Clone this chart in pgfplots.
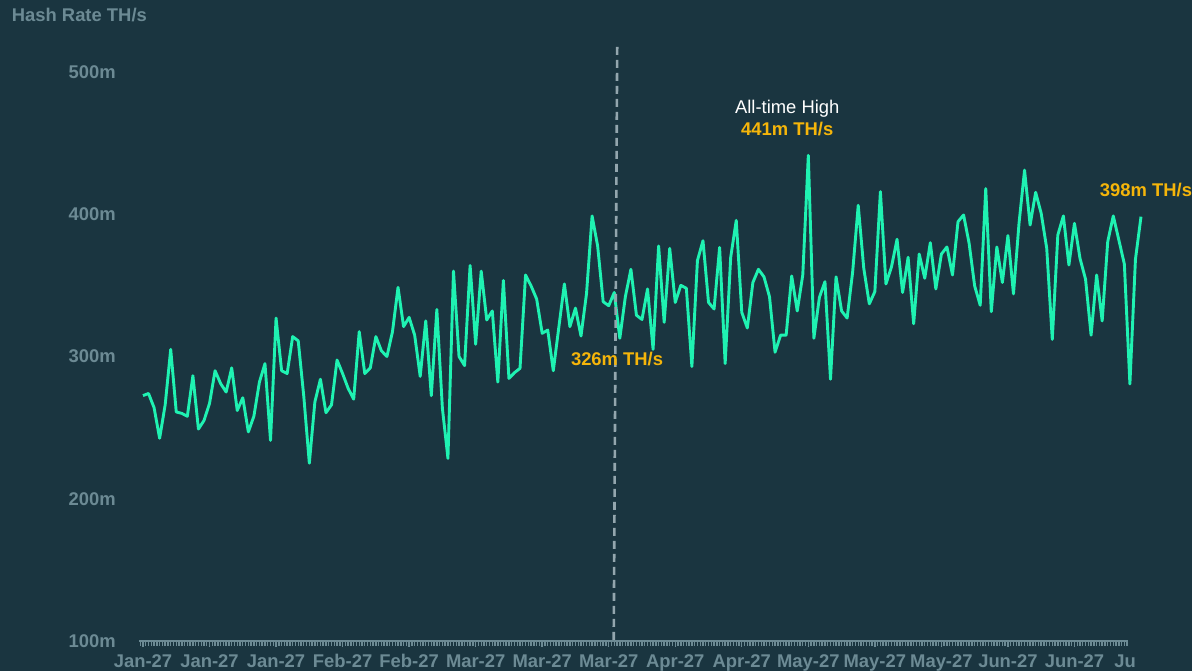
\documentclass[border=0pt]{standalone}
\usepackage{pgfplots}
\pgfplotsset{compat=1.18}
\usepackage{fontspec}
\setmainfont{Liberation Sans}
\definecolor{bg}{HTML}{1A3540}
\definecolor{mint}{HTML}{1FF2B2}
\definecolor{axisgray}{HTML}{6C8A94}
\definecolor{gold}{HTML}{F5B50A}
\definecolor{dashgray}{HTML}{93A6AE}
\newcommand{\fs}{\fontsize{18.4bp}{20bp}\selectfont}
\begin{document}
\begin{tikzpicture}[x=1bp,y=1bp]
\clip (0,0) rectangle (1192,671);
\fill[bg] (0,0) rectangle (1192,671);
\node[anchor=base west, text=axisgray, font=\fs\bfseries, inner sep=0pt] at (11.7,649.3) {Hash Rate TH/s};
\begin{axis}[
  at={(139bp,30bp)}, anchor=south west,
  scale only axis, width=989bp, height=569bp,
  xmin=-0.72, xmax=177.66, ymin=100, ymax=500,
  clip=false,
  separate axis lines,
  axis x line=bottom, axis y line=left,
  x axis line style={-, draw=axisgray, line width=2bp},
  y axis line style={draw=none},
  tick align=outside,
  xtick={0,12,...,168},
  xticklabels={Jan-27,Jan-27,Jan-27,Feb-27,Feb-27,Mar-27,Mar-27,Mar-27,Apr-27,Apr-27,May-27,May-27,May-27,Jun-27,Jun-27},
  minor xtick={-0.5,0,...,177.5},
  major tick length=6bp, minor tick length=5bp,
  xtick style={draw=axisgray, line width=1.4bp},
  minor tick style={draw=axisgray, line width=1.2bp},
  ytick={100,200,300,400,500},
  yticklabels={100m,200m,300m,400m,500m},
  ytick style={draw=none},
  tick label style={font=\fs\bfseries, text=axisgray, inner sep=0pt},
  xticklabel style={anchor=north, yshift=-7bp},
  yticklabel style={anchor=east, xshift=-17bp},
]
\addplot[mint, line width=2.9bp, line join=round, no marks] table[x=i, y=v] {
i v
0 272.5
1 274
2 264
3 242.5
4 266
5 305
6 261
7 260
8 258
9 286.5
10 249
11 255
12 267
13 290
14 281
15 275
16 292
17 262
18 271
19 247
20 258
21 282
22 295
23 241
24 327
25 290
26 288
27 314
28 311
29 272
30 225
31 268
32 284
33 260.5
34 266
35 297.5
36 288
37 277.6
38 270
39 317.5
40 288
41 292
42 314
43 304
44 300
45 317.5
46 348.6
47 321
48 327.5
49 315
50 286
51 325
52 272.5
53 333
54 263.6
55 228.4
56 360
57 300
58 293.6
59 364
60 308.6
61 360
62 325.7
63 332
64 282
65 353.5
66 284.6
67 288.6
68 291.7
69 357.3
70 349.6
71 340.4
72 316.3
73 318.6
74 290
75 320.5
76 351
77 321
78 334
79 314.4
80 344.4
81 398.8
82 377.7
83 338.5
84 335.7
85 345
86 312.8
87 342
88 361.3
89 329
90 326
91 347.5
92 305
93 377.7
94 324
95 376
96 338
97 350
98 348
99 293
100 367.4
101 381.4
102 338
103 333.4
104 376.7
105 295
106 369.7
107 395.7
108 331
109 320
110 352
111 361.3
112 356
113 342
114 303
115 315
116 315
117 356.6
118 332
119 357.3
120 441.4
121 312.8
122 341.6
123 352.6
124 284
125 356
126 332
127 327
128 359.6
129 406.3
130 362
131 337
132 345.6
133 415.9
134 351
135 363
136 382.4
137 345
138 369.7
139 323
140 372
141 355
142 380
143 347.5
144 372
145 377
146 357.3
147 394.8
148 399.5
149 379.6
150 349.6
151 336
152 418
153 331.5
154 377
155 352
156 385
157 344
158 393.6
159 431
160 392.4
161 415.4
162 400.6
163 376
164 312
165 385.4
166 398.8
167 364.3
168 393.6
169 369
170 354.3
171 315
172 357.3
173 325
174 380.7
175 398.8
176 382
177 365
178 280.7
179 368.3
180 398.3
};
\draw[dashgray, line width=2.6bp, dash pattern=on 8bp off 5bp] (axis cs:85.53,517.6) -- (axis cs:84.9,100.7);
\node[anchor=base, text=white, font=\fs, inner sep=0pt] at (axis cs:116.2,470.8) {All-time High};
\node[anchor=base, text=gold, font=\fs\bfseries, inner sep=0pt] at (axis cs:116.2,455.3) {441m TH/s};
\node[anchor=base, text=gold, font=\fs\bfseries, inner sep=0pt] at (axis cs:85.5,293.5) {326m TH/s};
\node[anchor=base, text=gold, font=\fs\bfseries, inner sep=0pt] at (axis cs:180.9,412.4) {398m TH/s};
\node[anchor=north, text=axisgray, font=\fs\bfseries, inner sep=0pt, yshift=-13bp] at (axis cs:180,100) {\rlap{Ju}\phantom{Jul-27}};
\end{axis}
\end{tikzpicture}
\end{document}
